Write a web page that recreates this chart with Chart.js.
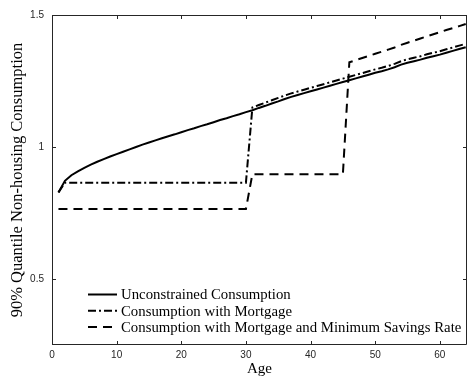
<!DOCTYPE html>
<html>
<head>
<meta charset="utf-8">
<script src="https://cdn.jsdelivr.net/npm/chart.js@4.4.1/dist/chart.umd.min.js"></script>
<style>
  html, body { margin: 0; padding: 0; background: #fff; }
  #chart { display: block; }
</style>
</head>
<body>
<canvas id="chart" width="468" height="381"></canvas>
<script>
const ages = [
  1, 2, 3, 4, 5, 6, 7, 8, 9, 10, 11, 12, 13, 14, 15, 16,
  17, 18, 19, 20, 21, 22, 23, 24, 25, 26, 27, 28, 29, 30, 31, 32,
  33, 34, 35, 36, 37, 38, 39, 40, 41, 42, 43, 44, 45, 46, 47, 48,
  49, 50, 51, 52, 53, 54, 55, 56, 57, 58, 59, 60, 61, 62, 63, 64
];

const unconstrained = [
  0.828, 0.872, 0.893, 0.908, 0.921, 0.933, 0.944, 0.954, 0.964, 0.973, 0.982, 0.991, 1.000, 1.009, 1.017, 1.025,
  1.033, 1.041, 1.048, 1.056, 1.064, 1.071, 1.079, 1.086, 1.094, 1.102, 1.109, 1.117, 1.124, 1.132, 1.139, 1.148,
  1.156, 1.165, 1.173, 1.182, 1.190, 1.197, 1.204, 1.211, 1.218, 1.225, 1.232, 1.239, 1.246, 1.253, 1.260, 1.267,
  1.274, 1.281, 1.287, 1.294, 1.302, 1.312, 1.319, 1.325, 1.331, 1.338, 1.344, 1.350, 1.357, 1.364, 1.371, 1.378
];

const withMortgage = [
  0.828, 0.865, 0.865, 0.865, 0.865, 0.865, 0.865, 0.865, 0.865, 0.865, 0.865, 0.865, 0.865, 0.865, 0.865, 0.865,
  0.865, 0.865, 0.865, 0.865, 0.865, 0.865, 0.865, 0.865, 0.865, 0.865, 0.865, 0.865, 0.865, 0.865, 1.150, 1.159,
  1.168, 1.177, 1.186, 1.195, 1.203, 1.210, 1.217, 1.224, 1.231, 1.238, 1.245, 1.252, 1.259, 1.266, 1.273, 1.280,
  1.287, 1.294, 1.300, 1.307, 1.315, 1.325, 1.332, 1.338, 1.344, 1.351, 1.357, 1.363, 1.370, 1.377, 1.384, 1.391
];

const withMinSavings = [
  0.765, 0.765, 0.765, 0.765, 0.765, 0.765, 0.765, 0.765, 0.765, 0.765, 0.765, 0.765, 0.765, 0.765, 0.765, 0.765,
  0.765, 0.765, 0.765, 0.765, 0.765, 0.765, 0.765, 0.765, 0.765, 0.765, 0.765, 0.765, 0.765, 0.765, 0.897, 0.897,
  0.897, 0.897, 0.897, 0.897, 0.897, 0.897, 0.897, 0.897, 0.897, 0.897, 0.897, 0.897, 0.897, 1.321, 1.329, 1.337,
  1.345, 1.353, 1.361, 1.369, 1.377, 1.387, 1.395, 1.403, 1.411, 1.419, 1.427, 1.435, 1.443, 1.450, 1.458, 1.466
];

const seriesLabels = [
  "Unconstrained Consumption",
  "Consumption with Mortgage",
  "Consumption with Mortgage and Minimum Savings Rate"
];

const xTicks = [0, 10, 20, 30, 40, 50, 60];
const yTicks = [0.5, 1, 1.5];

const axisColor = "#262626";

function toPoints(values) {
  return ages.map((a, i) => ({ x: a, y: values[i] }));
}

// box round the axes plus MATLAB style inward ticks on all four sides
const frameAndTicks = {
  id: "frameAndTicks",
  afterDraw(chart) {
    const { ctx, chartArea: a, scales } = chart;
    const len = 4;
    ctx.save();
    ctx.strokeStyle = axisColor;
    ctx.lineWidth = 1;
    ctx.beginPath();
    ctx.rect(a.left + 0.5, a.top + 0.5, a.right - a.left - 1, a.bottom - a.top - 1);
    scales.x.ticks.forEach((t) => {
      const px = Math.round(scales.x.getPixelForValue(t.value)) + 0.5;
      ctx.moveTo(px, a.bottom);
      ctx.lineTo(px, a.bottom - len);
      ctx.moveTo(px, a.top);
      ctx.lineTo(px, a.top + len);
    });
    scales.y.ticks.forEach((t) => {
      const py = Math.round(scales.y.getPixelForValue(t.value)) + 0.5;
      ctx.moveTo(a.left, py);
      ctx.lineTo(a.left + len, py);
      ctx.moveTo(a.right, py);
      ctx.lineTo(a.right - len, py);
    });
    ctx.stroke();
    ctx.restore();
  },
};

// legend inside the axes, bottom left, no box
const insideLegend = {
  id: "insideLegend",
  afterDraw(chart) {
    const { ctx } = chart;
    const x0 = 88, x1 = 117, tx = 121;
    const y0 = 294.5, dy = 16.2;
    ctx.save();
    ctx.font = '14.8px "Liberation Serif"';
    ctx.textBaseline = "middle";
    ctx.fillStyle = "#000";
    chart.data.datasets.forEach((ds, i) => {
      const y = y0 + i * dy;
      ctx.strokeStyle = ds.borderColor;
      ctx.lineWidth = ds.borderWidth;
      ctx.setLineDash(ds.borderDash || []);
      ctx.beginPath();
      ctx.moveTo(x0, y);
      ctx.lineTo(x1, y);
      ctx.stroke();
      ctx.fillText(ds.label, tx, y + 1);
    });
    ctx.restore();
  },
};

new Chart(document.getElementById("chart"), {
  type: "line",
  data: {
    datasets: [
      {
        label: seriesLabels[0],
        data: toPoints(unconstrained),
        borderColor: "#000",
        borderWidth: 2,
        borderDash: [],
      },
      {
        label: seriesLabels[1],
        data: toPoints(withMortgage),
        borderColor: "#000",
        borderWidth: 2,
        borderDash: [8, 3, 2, 3],
      },
      {
        label: seriesLabels[2],
        data: toPoints(withMinSavings),
        borderColor: "#000",
        borderWidth: 2,
        borderDash: [9, 6],
      },
    ],
  },
  options: {
    responsive: false,
    animation: false,
    elements: {
      point: { radius: 0 },
      line: { tension: 0, borderCapStyle: "butt" },
    },
    layout: { padding: { top: 15, right: 1, left: 0, bottom: 0 } },
    plugins: {
      legend: { display: false },
      tooltip: { enabled: false },
    },
    scales: {
      x: {
        type: "linear",
        min: 0,
        max: 64.2,
        afterFit(scale) { scale.height = 36; },
        afterBuildTicks(scale) { scale.ticks = xTicks.map((v) => ({ value: v })); },
        grid: { display: false, drawTicks: false },
        border: { display: false },
        ticks: {
          color: axisColor,
          font: { family: '"Liberation Sans"', size: 10 },
          padding: 4,
          maxRotation: 0,
          callback: (v) => String(v),
        },
        title: {
          display: true,
          text: "Age",
          color: "#000",
          font: { family: '"Liberation Serif"', size: 15 },
          padding: { top: 0, bottom: 3 },
        },
      },
      y: {
        type: "linear",
        min: 0.25,
        max: 1.5,
        afterFit(scale) { scale.width = 52; },
        afterBuildTicks(scale) { scale.ticks = yTicks.map((v) => ({ value: v })); },
        grid: { display: false, drawTicks: false },
        border: { display: false },
        ticks: {
          color: axisColor,
          font: { family: '"Liberation Sans"', size: 10 },
          padding: 8,
          callback: (v) => String(v),
        },
        title: {
          display: true,
          text: "90% Quantile Non-housing Consumption",
          color: "#000",
          font: { family: '"Liberation Serif"', size: 16.5 },
          padding: { top: 8, bottom: 0 },
        },
      },
    },
  },
  plugins: [frameAndTicks, insideLegend],
});
</script>
</body>
</html>
